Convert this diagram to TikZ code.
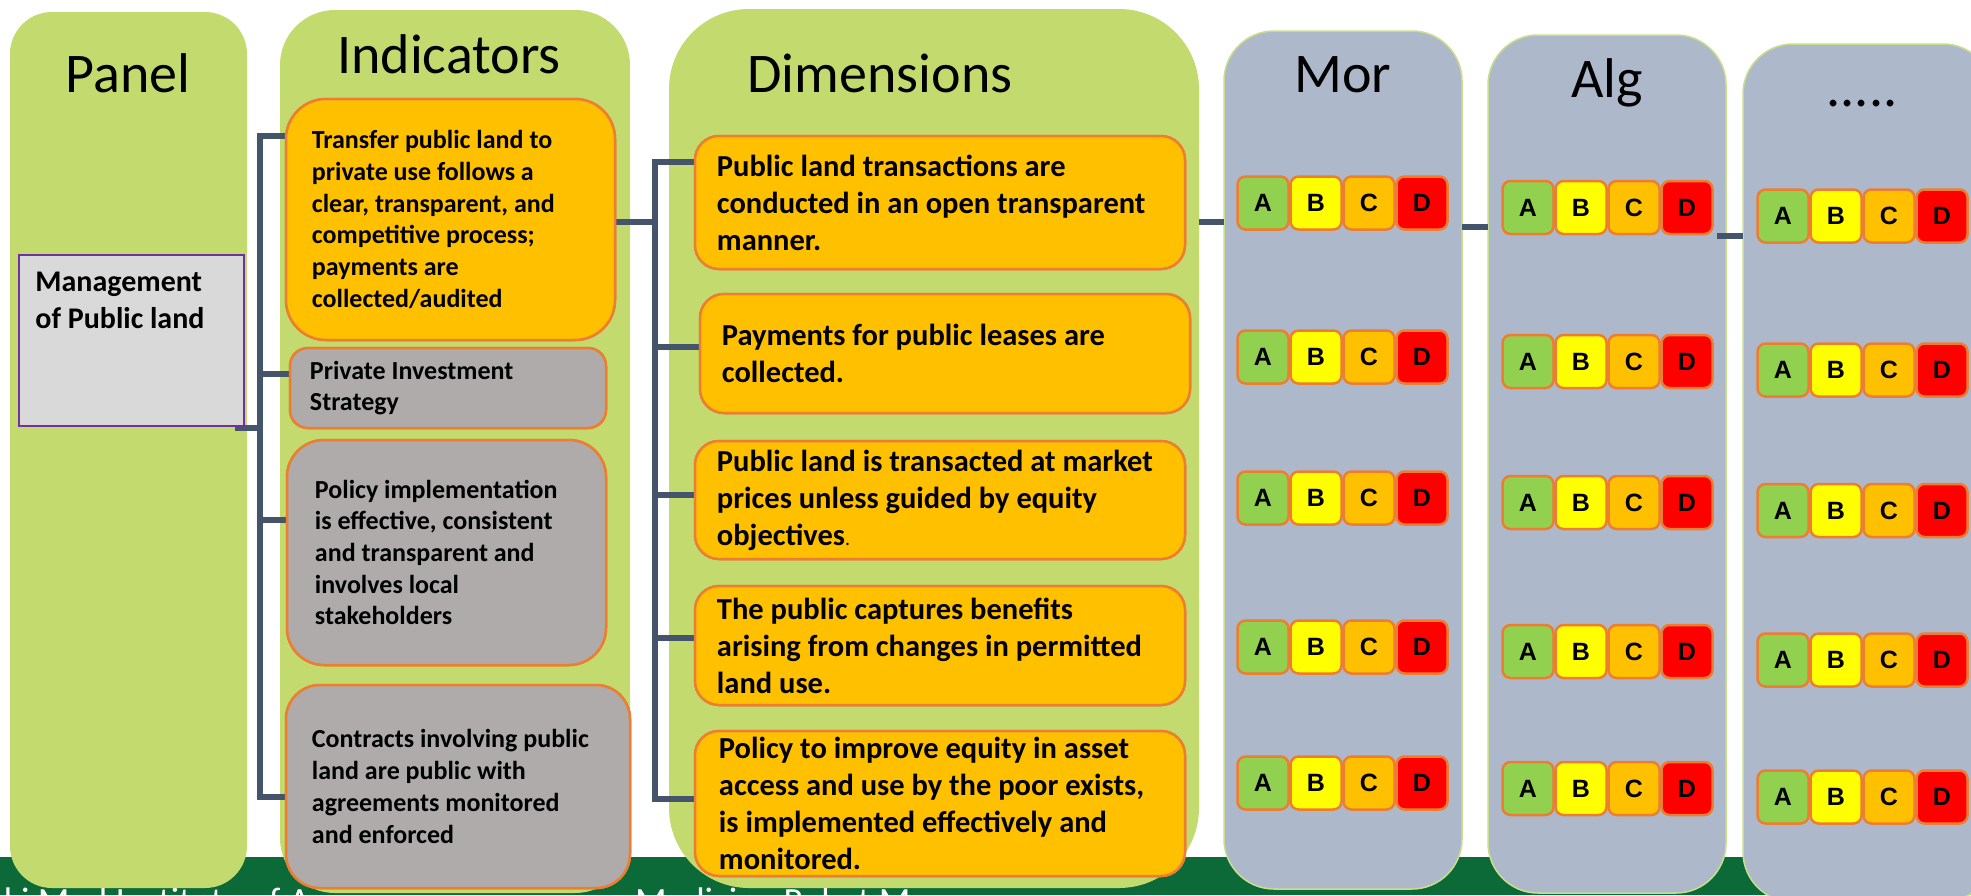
\documentclass[tikz,border=0pt]{standalone}
\usepackage{fontspec}
\setmainfont{Carlito}
\newfontfamily\gradefont{Liberation Sans}
\usetikzlibrary{calc}

\definecolor{colgreen}{HTML}{C3DB6E}
\definecolor{colslate}{HTML}{ADB9CA}
\definecolor{coledge}{HTML}{C9DE8A}
\definecolor{boxorange}{HTML}{FFC000}
\definecolor{boxedge}{HTML}{ED7D31}
\definecolor{boxgray}{HTML}{AFABAB}
\definecolor{mgmtgray}{HTML}{D9D9D9}
\definecolor{mgmtedge}{HTML}{7030A0}
\definecolor{linkcol}{HTML}{44546A}
\definecolor{bannergreen}{HTML}{0B6A37}
\definecolor{gA}{HTML}{92D050}
\definecolor{gB}{HTML}{FFFF00}
\definecolor{gC}{HTML}{FFC000}
\definecolor{gD}{HTML}{FF0000}

\tikzset{
  column/.style={rectangle, inner sep=0pt, outer sep=0pt},
  countrycol/.style={column, fill=colslate, draw=coledge, line width=1.5pt, rounded corners=50pt,
                     minimum width=238pt, minimum height=858pt},
  heading/.style={anchor=base, inner sep=0pt, font=\fontsize{56}{67}\selectfont},
  itembox/.style={rectangle, inner sep=0pt, draw=boxedge, line width=2.5pt},
  orangebox/.style={itembox, fill=boxorange},
  graybox/.style={itembox, fill=boxgray},
  mgmtbox/.style={rectangle, fill=mgmtgray, draw=mgmtedge, line width=1.5pt, inner sep=0pt,
                  minimum width=225pt, minimum height=171pt},
  itext/.style={anchor=west, align=left, inner sep=0pt, font=\bfseries\fontsize{26}{31.7}\selectfont},
  dtext/.style={anchor=west, align=left, inner sep=0pt, font=\bfseries\fontsize{30.5}{37}\selectfont},
  grade/.style={rectangle, rounded corners=8pt, draw=boxedge, line width=2.5pt, inner sep=0pt,
                minimum width=51pt, minimum height=53pt,
                font=\gradefont\bfseries\fontsize{25}{25}\selectfont},
  link/.style={draw=linkcol, line width=6.5pt},
  footer/.style={anchor=base west, inner sep=0pt, text=white, font=\fontsize{37}{44}\selectfont}
}

\begin{document}
\begin{tikzpicture}[x=1pt,y=-1pt]
\useasboundingbox (0,0) rectangle (1971,895);
\clip (0,0) rectangle (1971,895);
\fill[white] (0,0) rectangle (1971,895);

% footer band of the slide
\fill[bannergreen] (0,857) rectangle (1971,895);
\node[footer] (foot1) at (4,913) {ki Med Institute of A};
\node[footer] (foot2) at (635,913) {Medicine Rabat M};

% columns
\node[column, fill=colgreen, rounded corners=42pt, minimum width=237pt, minimum height=876pt] (panelcol) at (128.5,450) {};
\node[column, fill=colgreen, rounded corners=55pt, minimum width=350pt, minimum height=883pt] (indcol) at (455,451.5) {};
\node[column, fill=colgreen, rounded corners=80pt, minimum width=530pt, minimum height=879pt] (dimcol) at (934,448.5) {};
\node[countrycol] (mor) at (1343,460) {};
\node[countrycol] (alg) at (1607,464) {};
\node[countrycol, minimum width=250pt] (more) at (1868,473) {};

% column headings
\node[heading] (hpanel) at (128,92) {Panel};
\node[heading] (hind) at (449,73) {Indicators};
\node[heading] (hdim) at (880,92) {Dimensions};
\node[heading] (hmor) at (1343,92) {Mor};
\node[heading] (halg) at (1607,97) {Alg};
\node[heading] (hmore) at (1862,106) {.....};

% box outlines, placed first so the links can refer to them
\node[mgmtbox] (mg) at (131.5,340.5) {};
\node[orangebox, rounded corners=40pt, minimum width=329pt, minimum height=241pt] (i1) at (450.5,219.5) {};
\node[graybox, rounded corners=18pt, minimum width=316pt, minimum height=80pt] (i2) at (448,388) {};
\node[graybox, rounded corners=37pt, minimum width=319pt, minimum height=225pt] (i3) at (446.5,552.5) {};
\node[graybox, rounded corners=34pt, minimum width=344pt, minimum height=203pt] (i4) at (458,786.5) {};
\node[orangebox, rounded corners=24pt, minimum width=490pt, minimum height=133pt] (d1) at (940,202.5) {};
\node[orangebox, rounded corners=24pt, minimum width=490pt, minimum height=119pt] (d2) at (945,353.5) {};
\node[orangebox, rounded corners=24pt, minimum width=490pt, minimum height=118pt] (d3) at (940,500) {};
\node[orangebox, rounded corners=24pt, minimum width=490pt, minimum height=119pt] (d4) at (940,645.5) {};
\node[orangebox, rounded corners=24pt, minimum width=490pt, minimum height=145pt] (d5) at (940,803.5) {};

% bracket: panel to indicators
\coordinate (pbtop) at (260,136);
\coordinate (pbbot) at (260,797);
\coordinate (pb2) at (260,374);
\coordinate (pb3) at (260,520);
\coordinate (pbm) at (260,428);
\draw[link] (i1.west |- pbtop) -- (pbtop) -- (pbbot) -- (i4.west |- pbbot);
\draw[link] (pb2) -- (i2.west |- pb2);
\draw[link] (pb3) -- (i3.west |- pb3);
\draw[link] (pbm) -- (mg.south east |- pbm) -- ++(-10,0);

% bracket: indicators to dimensions
\coordinate (dbtop) at (655,162);
\coordinate (dbbot) at (655,799);
\coordinate (dbin) at (655,222);
\coordinate (db2) at (655,347);
\coordinate (db3) at (655,495);
\coordinate (db4) at (655,638);
\draw[link] (d1.west |- dbtop) -- (dbtop) -- (dbbot) -- (d5.west |- dbbot);
\draw[link] (i1.east |- dbin) -- (dbin);
\draw[link] (db2) -- (d2.west |- db2);
\draw[link] (db3) -- (d3.west |- db3);
\draw[link] (db4) -- (d4.west |- db4);

% links between the columns
\coordinate (k1) at (1199,222);
\coordinate (k2) at (1462,227);
\coordinate (k3) at (1743,236);
\draw[link] (dimcol.east |- k1) -- (mor.west |- k1);
\draw[link] (mor.east |- k2) -- (alg.west |- k2);
\draw[link] (more.west |- k3) -- ++(-26,0);

% boxes drawn again over the link ends
\node[mgmtbox] at (mg) {};
\node[orangebox, rounded corners=40pt, minimum width=329pt, minimum height=241pt] at (i1) {};
\node[graybox, rounded corners=18pt, minimum width=316pt, minimum height=80pt] at (i2) {};
\node[graybox, rounded corners=37pt, minimum width=319pt, minimum height=225pt] at (i3) {};
\node[graybox, rounded corners=34pt, minimum width=344pt, minimum height=203pt] at (i4) {};
\node[orangebox, rounded corners=24pt, minimum width=490pt, minimum height=133pt] at (d1) {};
\node[orangebox, rounded corners=24pt, minimum width=490pt, minimum height=119pt] at (d2) {};
\node[orangebox, rounded corners=24pt, minimum width=490pt, minimum height=118pt] at (d3) {};
\node[orangebox, rounded corners=24pt, minimum width=490pt, minimum height=119pt] at (d4) {};
\node[orangebox, rounded corners=24pt, minimum width=490pt, minimum height=145pt] at (d5) {};

% texts
\node[anchor=north west, align=left, inner sep=0pt, font=\bfseries\fontsize{30}{36.6}\selectfont]
  (mgt) at ([xshift=17pt,yshift=-17.5pt]mg.north west) {Management\\of Public land};

\node[itext] (i1t) at ([xshift=27pt]i1.west) {Transfer public land to\\private use follows a\\clear, transparent, and\\competitive process;\\payments are\\collected/audited};
\node[itext] (i2t) at ([xshift=21pt]i2.west) {Private Investment\\Strategy};
\node[itext] (i3t) at ([xshift=29pt]i3.west) {Policy implementation\\is effective, consistent\\and transparent and\\involves local\\stakeholders};
\node[itext] (i4t) at ([xshift=27pt]i4.west) {Contracts involving public\\land are public with\\agreements monitored\\and enforced};

\node[dtext] (d1t) at ([xshift=23pt]d1.west) {Public land transactions are\\conducted in an open transparent\\manner.};
\node[dtext] (d2t) at ([xshift=23pt]d2.west) {Payments for public leases are\\collected.};
\node[dtext] (d3t) at ([xshift=23pt]d3.west) {Public land is transacted at market\\prices unless guided by equity\\objectives{\mdseries\fontsize{20}{20}\selectfont.}};
\node[dtext] (d4t) at ([xshift=23pt]d4.west) {The public captures benefits\\arising from changes in permitted\\land use.};
\node[dtext] (d5t) at ([xshift=25pt]d5.west) {Policy to improve equity in asset\\access and use by the poor exists,\\is implemented effectively and\\monitored.};

% grade badges
\foreach \yy [count=\r] in {203,357,498,647,783} {
  \foreach \L/\c [count=\k from 0] in {A/gA,B/gB,C/gC,D/gD} {
    \node[grade, fill=\c] (mor-\r-\L) at (1263+53*\k,\yy) {\L};
  }
}
\foreach \yy [count=\r] in {207.5,361.5,502.5,651.5,788.5} {
  \foreach \L/\c [count=\k from 0] in {A/gA,B/gB,C/gC,D/gD} {
    \node[grade, fill=\c] (alg-\r-\L) at (1528+53*\k,\yy) {\L};
  }
}
\foreach \yy [count=\r] in {216,370,510.5,660,797} {
  \foreach \L/\c [count=\k from 0] in {A/gA,B/gB,C/gC,D/gD} {
    \node[grade, fill=\c] (more-\r-\L) at (1783+53*\k,\yy) {\L};
  }
}
\end{tikzpicture}
\end{document}
